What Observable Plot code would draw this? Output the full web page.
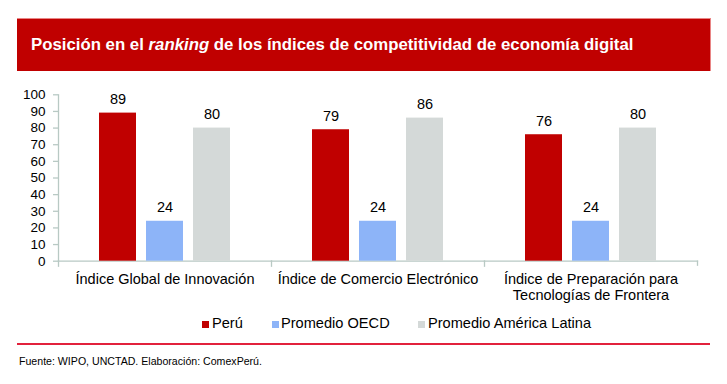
<!DOCTYPE html>
<html><head><meta charset="utf-8">
<script src="https://cdn.jsdelivr.net/npm/d3@7"></script>
<script src="https://cdn.jsdelivr.net/npm/@observablehq/plot@0.6"></script>
<style>
body{margin:0;background:#fff;font-family:"Liberation Sans",Arial,sans-serif;color:#000;}
#wrap{position:relative;width:727px;height:384px;overflow:hidden;}
#banner{position:absolute;left:17px;top:18px;width:694px;height:53px;background:#C00000;border-top:1px solid #E98585;border-right:1px solid #E98585;box-sizing:border-box;}
#title{position:absolute;left:31px;top:36.5px;color:#fff;font-weight:bold;font-size:16.8px;line-height:1;white-space:nowrap;}
#chart{position:absolute;left:0;top:80px;}
.lg{position:absolute;top:316px;font-size:14.6px;line-height:1;white-space:nowrap;}
.sw{position:absolute;top:321px;width:7px;height:7px;}
#rule{position:absolute;left:17px;top:343px;width:693px;height:2px;background:#E2213C;}
#source{position:absolute;left:19px;top:356px;font-size:10.6px;line-height:1;white-space:nowrap;}
</style>
</head><body>
<div id="wrap">
  <div id="banner"></div>
  <div id="title">Posición en el <i>ranking</i> de los índices de competitividad de economía digital</div>
  <div id="chart"></div>
  <div id="legend"></div>
  <div id="rule"></div>
  <div id="source">Fuente: WIPO, UNCTAD. Elaboración: ComexPerú.</div>
</div>
<script>
const categories = ["Índice Global de Innovación", "Índice de Comercio Electrónico", "Índice de Preparación para\nTecnologías de Frontera"];
const series = ["Perú", "Promedio OECD", "Promedio América Latina"];
const peru = [89, 79, 76];
const oecd = [24, 24, 24];
const latam = [80, 86, 80];
const yTicks = [0, 10, 20, 30, 40, 50, 60, 70, 80, 90, 100];
const colors = ["#C00000", "#8DB4F8", "#D4D9D8"];
const axisColor = "#B8C9C4";

const values = [peru, oecd, latam];
const data = categories.flatMap((c, i) => series.map((s, j) => ({cat: c, series: s, value: values[j][i]})));

const mT = 14.3, mB = 49.3, H = 230;
const innerH = H - mT - mB;

const chart = Plot.plot({
  width: 727,
  height: H,
  marginLeft: 58,
  marginRight: 30,
  marginTop: mT,
  marginBottom: mB,
  style: {fontFamily: "'Liberation Sans', Arial, sans-serif", background: "transparent", color: "#000"},
  fx: {domain: categories, paddingInner: 0, paddingOuter: 0, label: null},
  x: {domain: series, paddingInner: 0.21, paddingOuter: 0.84, axis: null},
  y: {domain: [0, 100], label: null},
  color: {domain: series, range: colors},
  marks: [
    Plot.frame({anchor: "bottom", stroke: axisColor, strokeWidth: 1.3}),
    Plot.frame({anchor: "left", stroke: axisColor, strokeWidth: 1.3, facetAnchor: "left"}),
    Plot.frame({anchor: "left", stroke: axisColor, strokeWidth: 1.3, insetTop: innerH, insetBottom: -5}),
    Plot.frame({anchor: "right", stroke: axisColor, strokeWidth: 1.3, insetTop: innerH, insetBottom: -4, facetAnchor: "right"}),
    Plot.axisY({ticks: yTicks, tickSize: 5, text: null, stroke: axisColor, strokeWidth: 1.3}),
    Plot.axisY({ticks: yTicks, tickSize: 0, tickPadding: 13, fontSize: 13.5, fill: "#000", label: null}),
    Plot.axisFx({anchor: "bottom", tickSize: 0, tickPadding: 11, fontSize: 14.5, lineHeight: 1.12, fill: "#000", label: null}),
    Plot.barY(data, {fx: "cat", x: "series", y: "value", fill: "series"}),
    Plot.text(data, {fx: "cat", x: "series", y: "value", text: d => String(d.value), dy: -9, lineAnchor: "bottom", fontSize: 14.5, fill: "#000"})
  ]
});
document.getElementById("chart").appendChild(chart);

// legend
const legendPos = [{sw: 202, tx: 212}, {sw: 272, tx: 281}, {sw: 418, tx: 428}];
const lg = document.getElementById("legend");
series.forEach((s, i) => {
  const sw = document.createElement("div");
  sw.className = "sw";
  sw.style.left = legendPos[i].sw + "px";
  sw.style.background = colors[i];
  lg.appendChild(sw);
  const t = document.createElement("div");
  t.className = "lg";
  t.style.left = legendPos[i].tx + "px";
  t.textContent = s;
  lg.appendChild(t);
});
</script>
</body></html>
